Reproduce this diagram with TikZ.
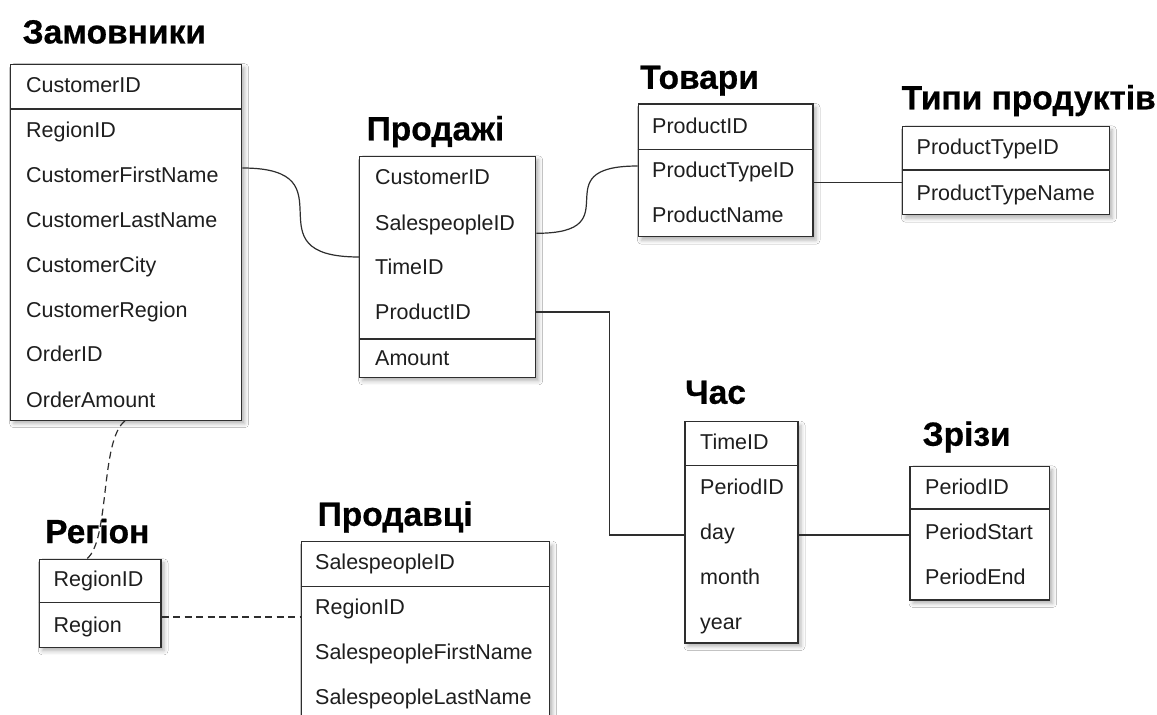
\documentclass[tikz,border=0pt]{standalone}
\usepackage{fontspec}
\setmainfont{Liberation Sans}
\newfontfamily\headfont{Liberation Sans Bold}[FakeBold=0.6]
\usetikzlibrary{shadows.blur}
\definecolor{edge}{HTML}{2E2E2E}
\definecolor{txt}{HTML}{1E1E1E}
\tikzset{
  tbl/.style={draw=edge, line width=1.4pt, fill=white, anchor=north west, inner sep=0pt,
    blur shadow={shadow xshift=3pt, shadow yshift=-3.5pt, shadow blur radius=4pt, shadow opacity=30}},
  divl/.style={draw=edge, line width=1.4pt},
  fld/.style={anchor=west, inner sep=0pt, text height=15pt, text depth=0pt, text=txt,
    font=\fontsize{21.5}{25}\selectfont},
  ttl/.style={anchor=west, inner sep=0pt, text height=23.5pt, text depth=0pt, text=black,
    font=\fontsize{33.5}{38}\headfont},
  link/.style={draw=edge, line width=1.2pt},
  dlink/.style={link, dash pattern=on 7pt off 4.5pt},
}
\begin{document}
\begin{tikzpicture}[x=1pt, y=-1pt]
\useasboundingbox (0,0) rectangle (1157,715);
\fill[white] (0,0) rectangle (1157,715);
\clip (0,0) rectangle (1157,715);

% ---------- tables ----------
% Замовники
\node[tbl, minimum width=231pt, minimum height=356pt] (zam) at (10,63.5) {};
\draw[divl] (zam.west |- 0,109) -- (zam.east |- 0,109);
% Продажі
\node[tbl, minimum width=176pt, minimum height=221pt] (prod) at (359,155.7) {};
\draw[divl] (prod.west |- 0,339) -- (prod.east |- 0,339);
% Товари
\node[tbl, minimum width=174.6pt, minimum height=132.7pt] (tov) at (637.7,103.3) {};
\draw[divl] (tov.west |- 0,149.3) -- (tov.east |- 0,149.3);
% Типи продуктів
\node[tbl, minimum width=207pt, minimum height=88.3pt] (typ) at (901.7,125.7) {};
\draw[divl] (typ.west |- 0,170) -- (typ.east |- 0,170);
% Час
\node[tbl, minimum width=113pt, minimum height=221.3pt] (chas) at (684.3,421) {};
\draw[divl] (chas.west |- 0,465.7) -- (chas.east |- 0,465.7);
% Зрізи
\node[tbl, minimum width=139.7pt, minimum height=133.6pt] (zriz) at (909.3,465.7) {};
\draw[divl] (zriz.west |- 0,509) -- (zriz.east |- 0,509);
% Регіон
\node[tbl, minimum width=121.6pt, minimum height=88pt] (reg) at (38.7,558.7) {};
\draw[divl] (reg.west |- 0,602.7) -- (reg.east |- 0,602.7);
% Продавці (runs past the lower edge)
\node[tbl, minimum width=248.3pt, minimum height=200pt] (sell) at (300.7,541) {};
\draw[divl] (sell.west |- 0,586.7) -- (sell.east |- 0,586.7);

% ---------- connectors ----------
\draw[link] (zam.east |- 0,168) .. controls (355,168) and (245,257) .. (prod.west |- 0,257);
\draw[link] (prod.east |- 0,233.3) .. controls (634,233.3) and (539,166) .. (tov.west |- 0,166);
\draw[link] (tov.east |- 0,182.5) -- (typ.west |- 0,182.5);
\draw[link] (prod.east |- 0,312) -- (609.3,312) -- (609.3,535) -- (chas.west |- 0,535);
\draw[link] (chas.east |- 0,535) -- (zriz.west |- 0,535);
\draw[dlink] (reg.east |- 0,617) -- (sell.west |- 0,617);
\draw[dlink] (zam.south west -| 125,0) .. controls (100,440) and (110,540) .. (reg.north west -| 87,0);

% ---------- titles ----------
\node[ttl] (tZam)  at (22.5,31.7)  {Замовники};
\node[ttl] (tProd) at (366.5,128.5) {Продажі};
\node[ttl] (tTov)  at (640,77)     {Товари};
\node[ttl] (tTyp)  at (901.5,97.5) {Типи продуктів};
\node[ttl] (tChas) at (685,392)    {Час};
\node[ttl] (tZriz) at (922.5,434)  {Зрізи};
\node[ttl] (tReg)  at (45,531.3)   {Регіон};
\node[ttl] (tSell) at (317.5,514)  {Продавці};

% ---------- fields ----------
\node[fld] (z1) at (26,85)    {CustomerID};
\node[fld] (z2) at (26,130)   {RegionID};
\node[fld] (z3) at (26,175)   {CustomerFirstName};
\node[fld] (z4) at (26,220)   {CustomerLastName};
\node[fld] (z5) at (26,265)   {CustomerCity};
\node[fld] (z6) at (26,310)   {CustomerRegion};
\node[fld] (z7) at (26,354.3) {OrderID};
\node[fld] (z8) at (26,400)   {OrderAmount};

\node[fld] (p1) at (375,176.7) {CustomerID};
\node[fld] (p2) at (375,223)   {SalespeopleID};
\node[fld] (p3) at (375,266.7) {TimeID};
\node[fld] (p4) at (375,312.3) {ProductID};
\node[fld] (p5) at (375,358.3) {Amount};

\node[fld] (t1) at (652,125.7) {ProductID};
\node[fld] (t2) at (652,170)   {ProductTypeID};
\node[fld] (t3) at (652,215)   {ProductName};

\node[fld] (y1) at (916.5,147.3) {ProductTypeID};
\node[fld] (y2) at (916.5,193.3) {ProductTypeName};

\node[fld] (c1) at (700,441.7) {TimeID};
\node[fld] (c2) at (700,486.7) {PeriodID};
\node[fld] (c3) at (700,531.7) {day};
\node[fld] (c4) at (700,576.7) {month};
\node[fld] (c5) at (700,621.7) {year};

\node[fld] (s1) at (925,487.3) {PeriodID};
\node[fld] (s2) at (925,532.3) {PeriodStart};
\node[fld] (s3) at (925,576.7) {PeriodEnd};

\node[fld] (r1) at (53.5,579) {RegionID};
\node[fld] (r2) at (53.5,625) {Region};

\node[fld] (v1) at (315,561.7) {SalespeopleID};
\node[fld] (v2) at (315,606.7) {RegionID};
\node[fld] (v3) at (315,651.7) {SalespeopleFirstName};
\node[fld] (v4) at (315,696.7) {SalespeopleLastName};
\end{tikzpicture}
\end{document}
